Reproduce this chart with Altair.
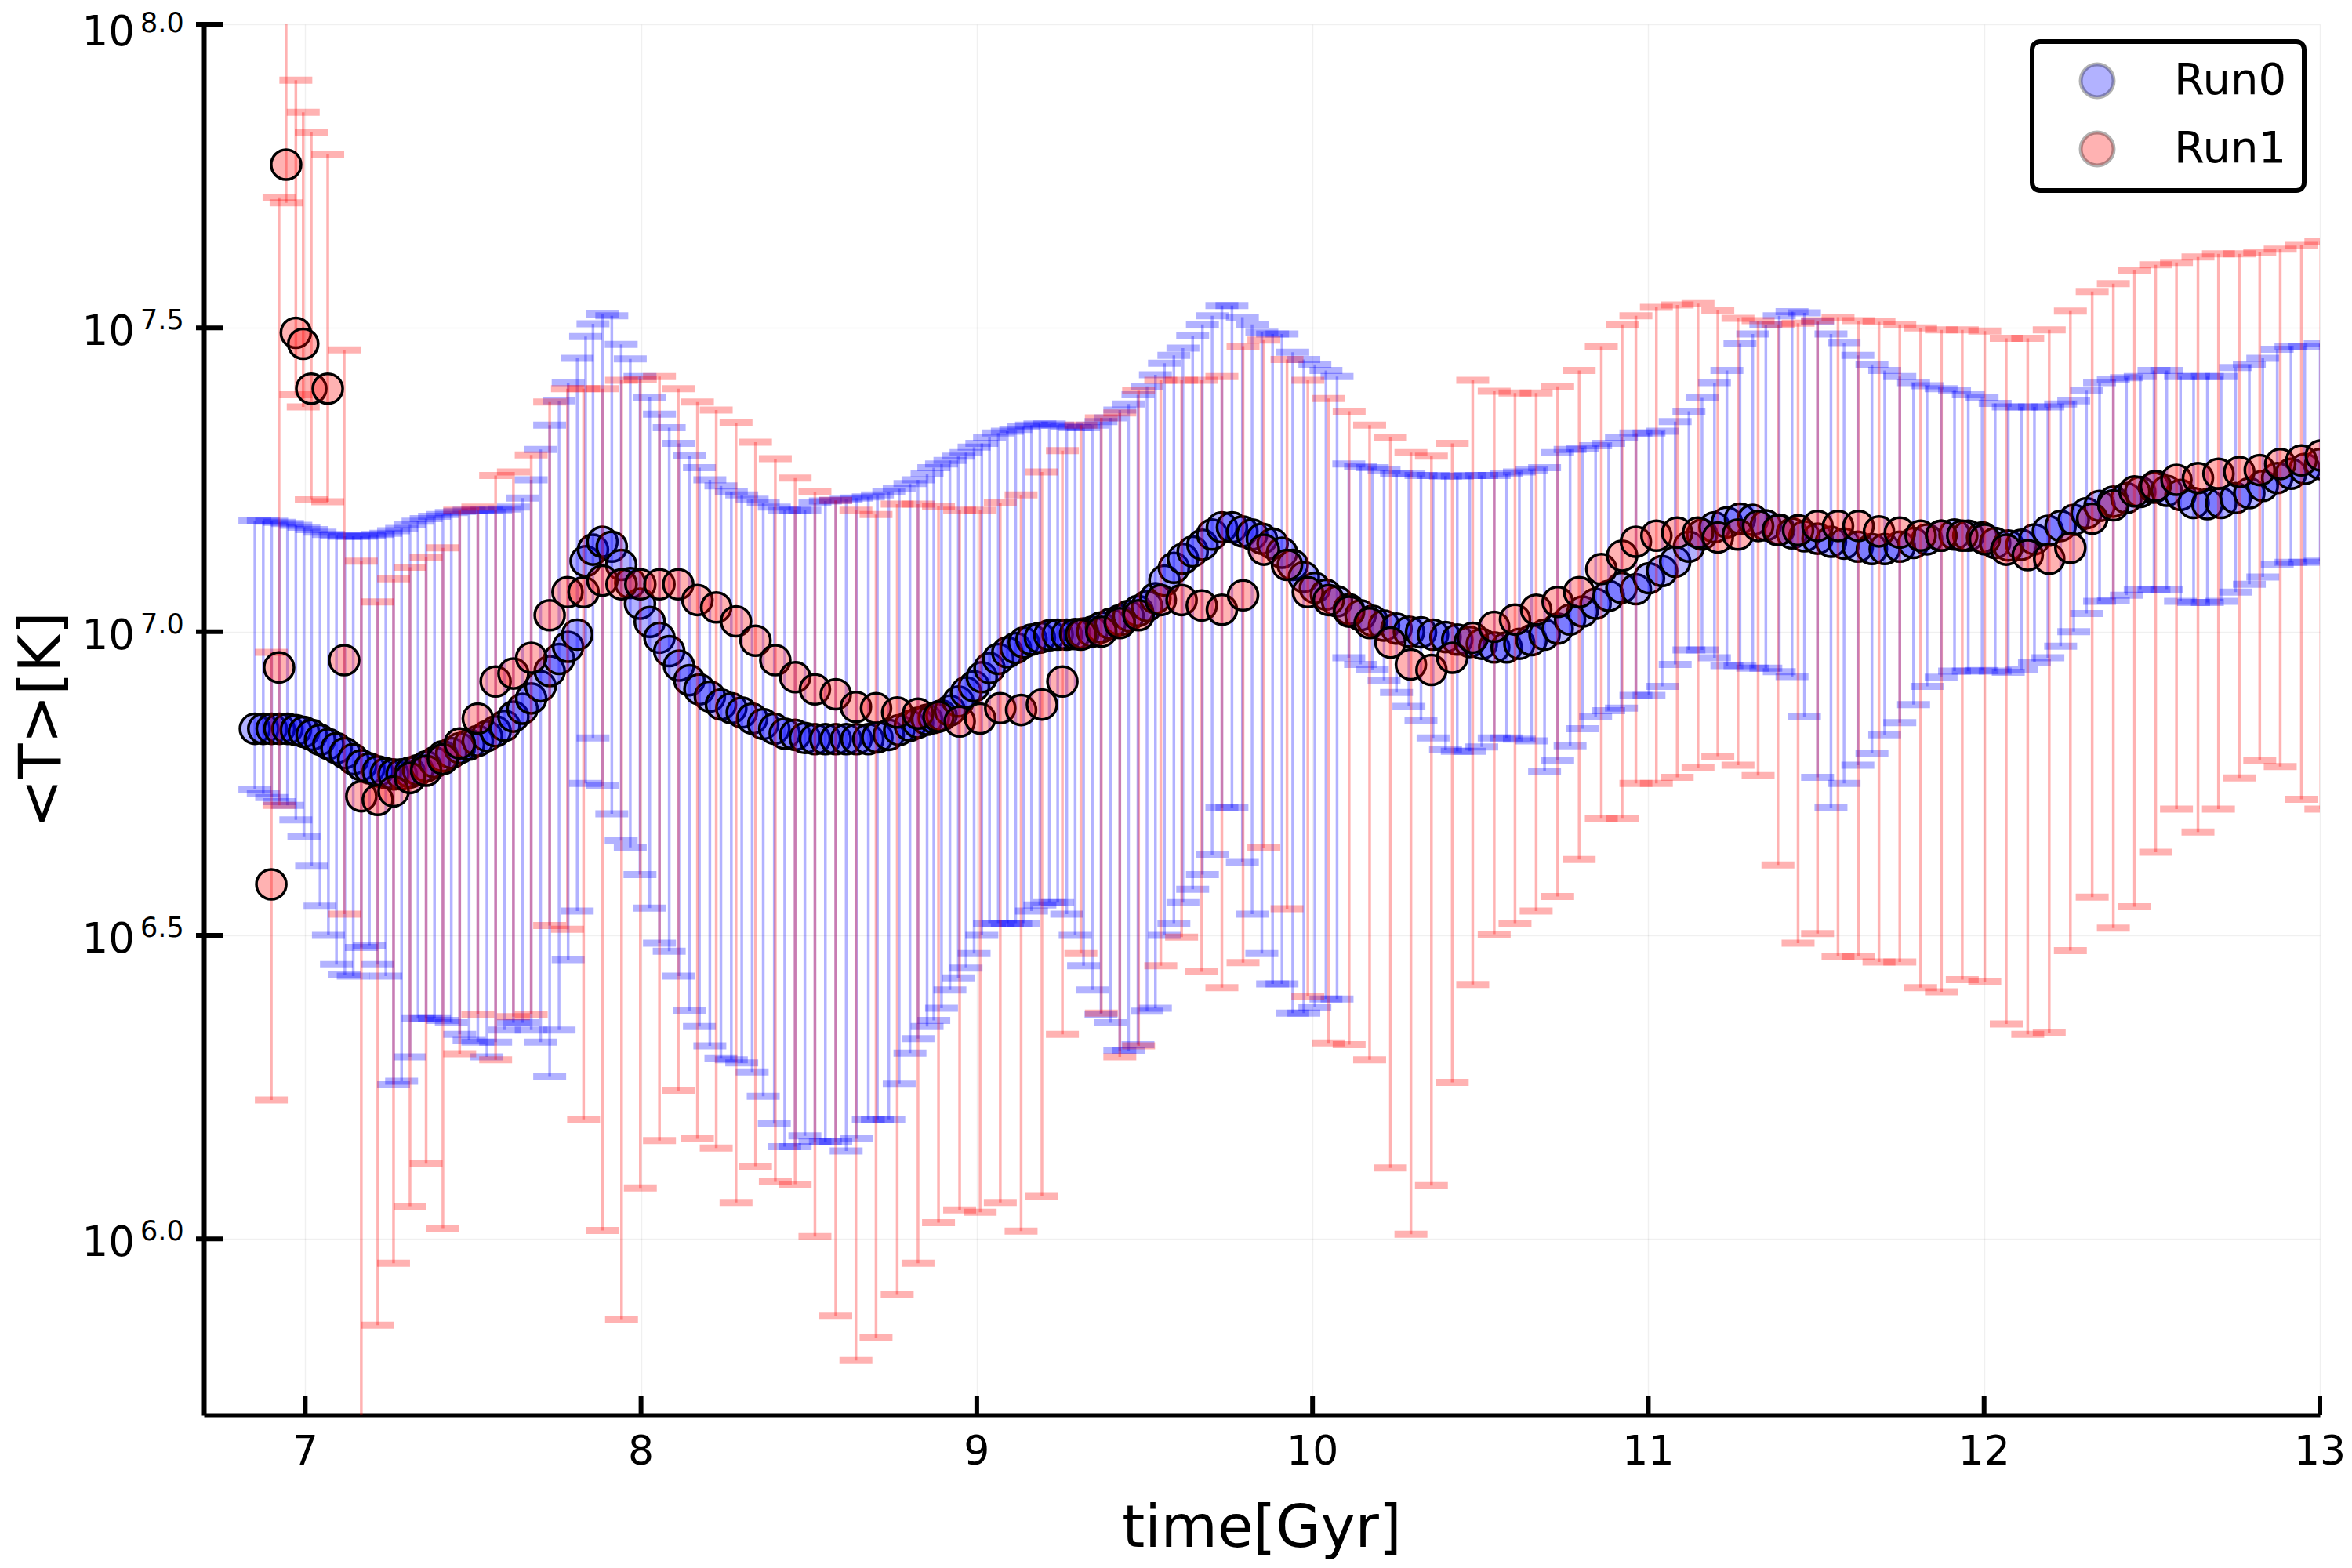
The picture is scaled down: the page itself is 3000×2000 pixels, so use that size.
import altair as alt
import pandas as pd

FONT = "DejaVu Sans"

# ---------------- Run0 (blue): time [Gyr], log10 <T>, log10 min, log10 max ----------------
B_T = [
    6.850, 6.875, 6.900, 6.923, 6.947, 6.972, 6.996, 7.019, 7.044, 7.069,
    7.093, 7.118, 7.143, 7.167, 7.191, 7.216, 7.240, 7.263, 7.287, 7.312,
    7.336, 7.360, 7.385, 7.410, 7.435, 7.460, 7.488, 7.514, 7.541, 7.567,
    7.594, 7.620, 7.647, 7.673, 7.701, 7.728, 7.756, 7.783, 7.810,
    7.835, 7.857, 7.885, 7.913, 7.941, 7.968, 7.997, 8.026, 8.055, 8.084,
    8.113, 8.144, 8.174, 8.205, 8.238, 8.269, 8.300, 8.331, 8.364, 8.397,
    8.428, 8.459, 8.488, 8.518, 8.549, 8.580, 8.611, 8.642, 8.677, 8.704,
    8.738, 8.769, 8.801, 8.825, 8.852,
    8.872, 8.895, 8.920, 8.945, 8.968, 8.992, 9.015, 9.038, 9.064, 9.091,
    9.116, 9.140, 9.163, 9.188, 9.216, 9.241, 9.268, 9.293, 9.318, 9.344,
    9.370, 9.398, 9.426, 9.452, 9.480, 9.507, 9.532, 9.559, 9.587, 9.614,
    9.643, 9.672, 9.701, 9.730, 9.760, 9.791, 9.820, 9.849, 9.881, 9.909,
    9.941, 9.974, 10.007, 10.040, 10.073, 10.108, 10.143, 10.178, 10.213, 10.250,
    10.287, 10.323, 10.359, 10.396, 10.431, 10.468, 10.504, 10.541, 10.578, 10.616,
    10.652, 10.691, 10.730, 10.767, 10.804, 10.843, 10.882, 10.920,
    10.963, 11.002, 11.041, 11.080, 11.121, 11.160, 11.197, 11.234, 11.273, 11.311,
    11.350, 11.390, 11.428, 11.465, 11.504, 11.544, 11.583, 11.624, 11.666, 11.704,
    11.749, 11.790, 11.830, 11.872, 11.912, 11.953, 11.994,
    12.033, 12.072, 12.111, 12.150, 12.190, 12.228, 12.267, 12.305, 12.344, 12.385,
    12.424, 12.465, 12.506, 12.544, 12.585, 12.624, 12.665, 12.706, 12.749, 12.790,
    12.830, 12.873, 12.914, 12.955, 13.001,
]
B_MEAN = [
    6.84, 6.84, 6.84, 6.84, 6.84, 6.838, 6.835, 6.83, 6.822, 6.815,
    6.808, 6.80, 6.79, 6.78, 6.775, 6.77, 6.767, 6.765, 6.765, 6.768,
    6.772, 6.778, 6.785, 6.795, 6.80, 6.808, 6.814, 6.82, 6.828, 6.836,
    6.845, 6.86, 6.873, 6.89, 6.91, 6.935, 6.955, 6.975, 6.995,
    7.116, 7.135, 7.148, 7.14, 7.11, 7.08, 7.046, 7.016, 6.99, 6.968,
    6.944, 6.92, 6.905, 6.893, 6.88, 6.874, 6.867, 6.857, 6.848, 6.84,
    6.832, 6.83, 6.825, 6.823, 6.823, 6.823, 6.823, 6.823, 6.823, 6.826,
    6.83, 6.838, 6.845, 6.85, 6.855,
    6.858, 6.862, 6.87, 6.885, 6.90, 6.91, 6.925, 6.94, 6.955, 6.966,
    6.973, 6.982, 6.987, 6.99, 6.994, 6.995, 6.995, 6.996, 6.997, 7.0,
    7.007, 7.013, 7.019, 7.026, 7.034, 7.042, 7.055, 7.084, 7.105, 7.12,
    7.132, 7.143, 7.16, 7.172, 7.172, 7.165, 7.16, 7.153, 7.145, 7.13,
    7.11, 7.09, 7.072, 7.061, 7.05, 7.037, 7.027, 7.018, 7.01, 7.005,
    7.0, 6.999, 6.995, 6.991, 6.987, 6.983, 6.98, 6.974, 6.974, 6.98,
    6.986, 6.995, 7.005, 7.02, 7.033, 7.046, 7.059, 7.072,
    7.07, 7.088, 7.10, 7.115, 7.14, 7.16, 7.172, 7.18, 7.186, 7.184,
    7.175, 7.168, 7.162, 7.157, 7.153, 7.148, 7.145, 7.14, 7.136, 7.136,
    7.14, 7.146, 7.152, 7.158, 7.16, 7.158, 7.155,
    7.146, 7.142, 7.143, 7.152, 7.166, 7.174, 7.184, 7.195, 7.207, 7.214,
    7.22, 7.23, 7.237, 7.232, 7.225, 7.212, 7.21, 7.212, 7.22, 7.228,
    7.24, 7.253, 7.26, 7.268, 7.276,
]
B_HI = [
    7.183, 7.183, 7.182, 7.18, 7.178, 7.175, 7.172, 7.168, 7.164, 7.16,
    7.158, 7.157, 7.157, 7.157, 7.158, 7.16, 7.162, 7.166, 7.17, 7.176,
    7.182, 7.186, 7.19, 7.193, 7.196, 7.198, 7.2, 7.2, 7.2, 7.2,
    7.202, 7.205, 7.22, 7.25, 7.30, 7.34, 7.38, 7.41, 7.45,
    7.486, 7.507, 7.523, 7.52, 7.473, 7.449, 7.42, 7.386, 7.358, 7.336,
    7.31, 7.29, 7.27, 7.25, 7.24, 7.23, 7.225, 7.218, 7.212, 7.205,
    7.20, 7.20, 7.20, 7.212, 7.215, 7.216, 7.218, 7.22, 7.222, 7.225,
    7.23, 7.235, 7.244, 7.25, 7.26,
    7.27, 7.276, 7.282, 7.289, 7.295, 7.304, 7.31, 7.32, 7.327, 7.33,
    7.333, 7.337, 7.34, 7.342, 7.342, 7.34, 7.338, 7.336, 7.336, 7.34,
    7.346, 7.352, 7.365, 7.375, 7.39, 7.404, 7.423, 7.442, 7.455, 7.467,
    7.487, 7.506, 7.52, 7.537, 7.537, 7.518, 7.506, 7.493, 7.49, 7.49,
    7.46, 7.448, 7.44, 7.43, 7.42, 7.276, 7.272, 7.27, 7.266, 7.26,
    7.26, 7.257, 7.257, 7.256, 7.256, 7.257, 7.257, 7.257, 7.26, 7.263,
    7.266, 7.27, 7.295, 7.30, 7.302, 7.306, 7.31, 7.32,
    7.327, 7.327, 7.33, 7.346, 7.363, 7.385, 7.41, 7.43, 7.474, 7.49,
    7.505, 7.52, 7.527, 7.525, 7.51, 7.49, 7.476, 7.455, 7.44, 7.43,
    7.42, 7.41, 7.405, 7.40, 7.397, 7.39, 7.385,
    7.376, 7.37, 7.37, 7.37, 7.37, 7.375, 7.38, 7.397, 7.41, 7.416,
    7.418, 7.42, 7.43, 7.43, 7.42, 7.42, 7.42, 7.42, 7.435, 7.44,
    7.45, 7.465, 7.47, 7.47, 7.474,
]
B_LO = [
    6.74, 6.733, 6.727, 6.72, 6.714, 6.69, 6.663, 6.614, 6.548, 6.50,
    6.452, 6.435, 6.433, 6.48, 6.484, 6.452, 6.433, 6.254, 6.26, 6.30,
    6.363, 6.363, 6.363, 6.36, 6.356, 6.337, 6.327, 6.324, 6.30, 6.324,
    6.344, 6.356, 6.356, 6.344, 6.324, 6.267, 6.344, 6.46, 6.54,
    6.75, 6.825, 6.746, 6.70, 6.656, 6.645, 6.60, 6.545, 6.487, 6.474,
    6.433, 6.376, 6.35, 6.318, 6.297, 6.295, 6.29, 6.275, 6.235, 6.19,
    6.152, 6.152, 6.17, 6.16, 6.16, 6.16, 6.145, 6.165, 6.197, 6.197,
    6.197, 6.255, 6.306, 6.33, 6.35,
    6.36, 6.38, 6.41, 6.43, 6.446, 6.47, 6.50, 6.52, 6.52, 6.52,
    6.52, 6.52, 6.54, 6.55, 6.554, 6.554, 6.535, 6.50, 6.45, 6.41,
    6.37, 6.356, 6.31, 6.31, 6.32, 6.375, 6.38, 6.50, 6.52, 6.554,
    6.576, 6.60, 6.633, 6.71, 6.71, 6.62, 6.535, 6.47, 6.42, 6.42,
    6.372, 6.372, 6.382, 6.395, 6.395, 6.957, 6.946, 6.937, 6.92, 6.90,
    6.877, 6.854, 6.825, 6.806, 6.803, 6.803, 6.81, 6.825, 6.825, 6.823,
    6.82, 6.77, 6.788, 6.812, 6.84, 6.86, 6.87, 6.874,
    6.895, 6.895, 6.91, 6.946, 6.97, 6.97, 6.957, 6.944, 6.944, 6.94,
    6.94, 6.934, 6.926, 6.86, 6.76, 6.71, 6.75, 6.78, 6.80, 6.83,
    6.85, 6.88, 6.91, 6.925, 6.935, 6.935, 6.936,
    6.935, 6.933, 6.938, 6.95, 6.957, 6.976, 7.0, 7.03, 7.05, 7.052,
    7.06, 7.07, 7.07, 7.07, 7.05, 7.048, 7.048, 7.05, 7.065, 7.078,
    7.09, 7.11, 7.114, 7.114, 7.116,
]

# ---------------- Run1 (red) ----------------
R_T = [
    6.899, 6.922, 6.943, 6.972, 6.994, 7.018, 7.067, 7.116,
    7.167, 7.216, 7.263, 7.312, 7.360, 7.410, 7.460, 7.514, 7.567, 7.620,
    7.673, 7.728, 7.781, 7.829, 7.885, 7.942, 7.998, 8.055, 8.111, 8.168,
    8.224, 8.283, 8.341, 8.400, 8.459, 8.518, 8.580, 8.640, 8.700, 8.763,
    8.825, 8.886, 8.949, 9.010, 9.070, 9.132, 9.194, 9.255, 9.310, 9.371,
    9.426, 9.482, 9.548, 9.610, 9.670, 9.730, 9.793, 9.855, 9.924, 9.986,
    10.048, 10.109, 10.170, 10.232, 10.293, 10.354, 10.416, 10.477, 10.541, 10.603,
    10.666, 10.730, 10.794, 10.860, 10.922, 10.963, 11.024, 11.086, 11.148, 11.207,
    11.267, 11.327, 11.386, 11.446, 11.504, 11.565, 11.626, 11.687, 11.749, 11.811,
    11.873, 11.935, 12.002, 12.066, 12.130, 12.194, 12.257, 12.322, 12.385, 12.448,
    12.511, 12.573, 12.637, 12.698, 12.760, 12.821, 12.882, 12.945, 13.003,
]
R_MEAN = [
    6.584, 6.941, 7.769, 7.492, 7.474, 7.40, 7.40, 6.953,
    6.729, 6.723, 6.737, 6.759, 6.771, 6.79, 6.816, 6.857, 6.918, 6.931,
    6.957, 7.027, 7.065, 7.065, 7.084, 7.078, 7.078, 7.078, 7.078, 7.052,
    7.04, 7.017, 6.985, 6.953, 6.925, 6.905, 6.897, 6.876, 6.874, 6.867,
    6.865, 6.86, 6.852, 6.857, 6.874, 6.871, 6.88, 6.918, 6.995, 7.0,
    7.014, 7.027, 7.052, 7.052, 7.043, 7.036, 7.06, 7.135, 7.11, 7.065,
    7.052, 7.033, 7.014, 6.982, 6.946, 6.937, 6.957, 6.99, 7.008, 7.02,
    7.036, 7.049, 7.065, 7.103, 7.125, 7.148, 7.158, 7.163, 7.163, 7.155,
    7.16, 7.174, 7.167, 7.167, 7.174, 7.174, 7.174, 7.165, 7.163, 7.158,
    7.158, 7.158, 7.152, 7.135, 7.126, 7.12, 7.138, 7.186, 7.208, 7.231,
    7.24, 7.25, 7.253, 7.26, 7.263, 7.266, 7.276, 7.282, 7.29,
]
R_HI = [
    6.966, 7.715, 8.05, 7.908, 7.855, 7.822, 7.786, 7.464,
    7.116, 7.049, 7.087, 7.106, 7.123, 7.138, 7.20, 7.205, 7.257, 7.263,
    7.291, 7.378, 7.40, 7.40, 7.40, 7.414, 7.416, 7.42, 7.40, 7.378,
    7.365, 7.344, 7.312, 7.285, 7.253, 7.23, 7.216, 7.20, 7.193, 7.21,
    7.21, 7.206, 7.20, 7.20, 7.212, 7.225, 7.263, 7.298, 7.34, 7.352,
    7.36, 7.397, 7.414, 7.414, 7.414, 7.42, 7.47, 7.48, 7.448, 7.414,
    7.384, 7.363, 7.34, 7.32, 7.295, 7.289, 7.31, 7.414, 7.396, 7.393,
    7.393, 7.404, 7.43, 7.47, 7.506, 7.52, 7.534, 7.538, 7.54, 7.529,
    7.516, 7.512, 7.506, 7.508, 7.512, 7.518, 7.512, 7.51, 7.506, 7.50,
    7.497, 7.497, 7.495, 7.483, 7.483, 7.497, 7.528, 7.56, 7.573, 7.595,
    7.604, 7.608, 7.617, 7.622, 7.622, 7.625, 7.63, 7.636, 7.642,
]
R_LO = [
    6.229, 6.714, 7.706, 7.39, 7.37, 7.217, 7.214, 6.535,
    5.6, 5.858, 5.96, 6.054, 6.124, 6.018, 6.305, 6.37, 6.295, 6.366,
    6.37, 6.516, 6.51, 6.197, 6.014, 5.867, 6.084, 6.162, 6.244, 6.165,
    6.15, 6.06, 6.12, 6.094, 6.09, 6.004, 5.873, 5.80, 5.837, 5.908,
    5.96, 6.027, 6.048, 6.044, 6.06, 6.013, 6.07, 6.337, 6.47, 6.372,
    6.30, 6.318, 6.45, 6.497, 6.44, 6.414, 6.455, 6.644, 6.544, 6.40,
    6.323, 6.32, 6.295, 6.117, 6.008, 6.088, 6.258, 6.419, 6.502, 6.52,
    6.54, 6.564, 6.625, 6.692, 6.692, 6.75, 6.75, 6.76, 6.776, 6.795,
    6.78, 6.763, 6.616, 6.487, 6.503, 6.465, 6.465, 6.456, 6.456, 6.414,
    6.407, 6.427, 6.424, 6.354, 6.337, 6.34, 6.475, 6.563, 6.512, 6.547,
    6.637, 6.708, 6.67, 6.708, 6.759, 6.788, 6.778, 6.724, 6.708,
]

SERIES = ["Run0", "Run1"]
LINE_COLORS = ["#0000ff", "#ff0000"]
FILL_COLORS = ["rgba(0,0,255,0.3)", "rgba(255,0,0,0.3)"]
X_TICKS = [7, 8, 9, 10, 11, 12, 13]
Y_TICKS = [6.0, 6.5, 7.0, 7.5, 8.0]
Y_EXP = ["6.0", "6.5", "7.0", "7.5", "8.0"]


def frame(name, t, m, lo, hi):
    rows = [dict(series=name, t=a, mean=b, lo=c, hi=d) for a, b, c, d in zip(t, m, lo, hi)]
    return pd.DataFrame(rows)


df = pd.concat([frame("Run0", B_T, B_MEAN, B_LO, B_HI),
                frame("Run1", R_T, R_MEAN, R_LO, R_HI)], ignore_index=True)
ydf = pd.DataFrame({"v": Y_TICKS, "exp": Y_EXP})
ydf_low = ydf[ydf["v"] < 8.0]
ydf_top = ydf[ydf["v"] >= 8.0]
xdf = pd.DataFrame({"v": X_TICKS, "lab": [str(v) for v in X_TICKS]})
one = pd.DataFrame({"a": [0]})

W, H = 2699, 1774
xsc = alt.Scale(domain=[6.698, 13.0], nice=False, zero=False)
ysc = alt.Scale(domain=[5.71, 8.0], nice=False, zero=False)
fill_sc = alt.Scale(domain=SERIES, range=FILL_COLORS)

x_axis = alt.Axis(values=X_TICKS, labels=False, ticks=False, tickSize=0, title=None,
                  domainColor="black", domainWidth=6, grid=True, gridColor="#000000",
                  gridOpacity=0.06, gridWidth=1.5)
y_axis = alt.Axis(values=Y_TICKS, labels=False, ticks=False, tickSize=0, title=None,
                  domainColor="black", domainWidth=6, grid=True, gridColor="#000000",
                  gridOpacity=0.06, gridWidth=1.5)

X = alt.X("t:Q", scale=xsc, axis=x_axis)

legend = alt.Legend(title=None, orient="none", legendX=2332, legendY=22, padding=22,
                    strokeColor="black", cornerRadius=10, fillColor="white",
                    labelFont=FONT, labelFontSize=56, symbolType="circle", symbolSize=1760,
                    symbolStrokeWidth=5, symbolStrokeColor="rgba(0,0,0,0.3)",
                    symbolOffset=33, labelOffset=70, rowPadding=25)

base = alt.Chart(df)
layers = []
for name, lc in zip(SERIES, LINE_COLORS):
    d = base.transform_filter(alt.datum.series == name)
    bars = d.mark_rule(color=lc, opacity=0.3, strokeWidth=3.5, clip=True).encode(
        x=X, y=alt.Y("lo:Q", scale=ysc, axis=y_axis), y2="hi:Q")
    cap_lo = d.mark_tick(orient="horizontal", color=lc, opacity=0.3, size=42,
                         thickness=9, clip=True).encode(
        x=X, y=alt.Y("lo:Q", scale=ysc, axis=y_axis))
    cap_hi = d.mark_tick(orient="horizontal", color=lc, opacity=0.3, size=42,
                         thickness=9, clip=True).encode(
        x=X, y=alt.Y("hi:Q", scale=ysc, axis=y_axis))
    pts = d.mark_point(shape="circle", filled=True, size=1450, stroke="black",
                       strokeWidth=3.5, opacity=1, clip=True).encode(
        x=X, y=alt.Y("mean:Q", scale=ysc, axis=y_axis),
        fill=alt.Fill("series:N", scale=fill_sc, legend=legend))
    layers += [bars, cap_lo, cap_hi, pts]

ytick = alt.Chart(ydf).mark_rule(color="black", strokeWidth=6).encode(
    y=alt.Y("v:Q", scale=ysc, axis=y_axis), x=alt.value(-10), x2=alt.value(24))
xtick = alt.Chart(xdf).mark_rule(color="black", strokeWidth=6).encode(
    x=alt.X("v:Q", scale=xsc, axis=x_axis), y=alt.value(H - 24), y2=alt.value(H))


def ylabels(data, dy10, dyexp):
    ten = alt.Chart(data).mark_text(align="right", baseline="alphabetic", fontSize=53,
                                    dy=dy10, font=FONT).encode(
        y=alt.Y("v:Q", scale=ysc, axis=y_axis), x=alt.value(-88), text=alt.value("10"))
    ex = alt.Chart(data).mark_text(align="left", baseline="alphabetic", fontSize=35,
                                   dy=dyexp, font=FONT).encode(
        y=alt.Y("v:Q", scale=ysc, axis=y_axis), x=alt.value(-81), text="exp:N")
    return [ten, ex]


ylab_layers = ylabels(ydf_low, 22, 2) + ylabels(ydf_top, 27, 10)

xlab = alt.Chart(xdf).mark_text(align="center", baseline="alphabetic", fontSize=52,
                                font=FONT).encode(
    x=alt.X("v:Q", scale=xsc, axis=x_axis), y=alt.value(H + 63), text="lab:N")

xtitle = alt.Chart(one).mark_text(align="center", baseline="alphabetic", fontSize=74,
                                  font=FONT).encode(
    x=alt.value(W / 2), y=alt.value(H + 168), text=alt.value("time[Gyr]"))
ytitle = alt.Chart(one).mark_text(align="center", baseline="alphabetic", fontSize=74,
                                  angle=270, font=FONT).encode(
    x=alt.value(-183), y=alt.value(H / 2), text=alt.value("<T>[K]"))

chart = alt.layer(*layers, ytick, xtick, *ylab_layers, xlab, xtitle, ytitle).properties(
    width=W, height=H,
    autosize=alt.AutoSizeParams(type="none"),
    padding={"left": 252, "top": 23, "right": 33, "bottom": 190},
).configure(font=FONT, background="white").configure_view(
    stroke="transparent").configure_legend(strokeWidth=6)

chart.save("out.html", embed_options={"renderer": "svg", "actions": False})
